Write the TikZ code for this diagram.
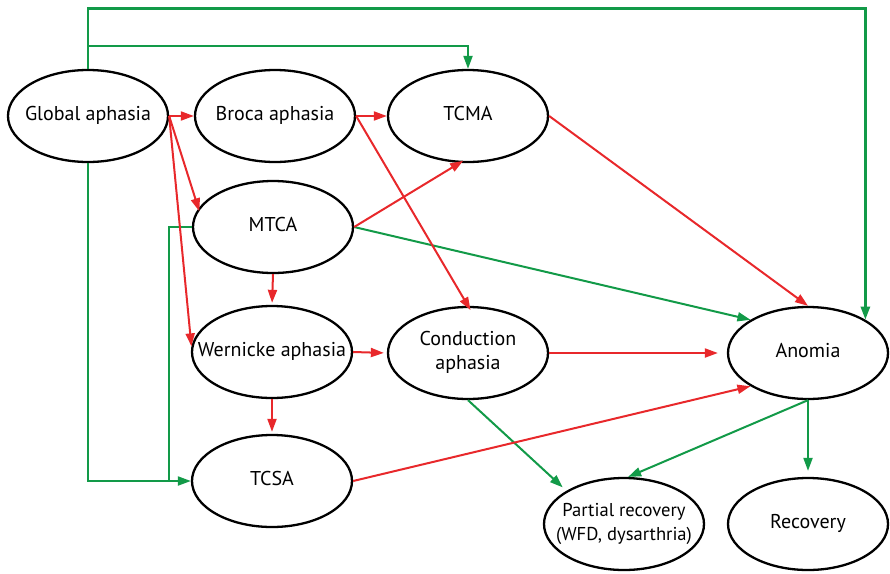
\documentclass[tikz,border=0pt]{standalone}
\usepackage{fontspec}
\setmainfont{PT Sans}
\usetikzlibrary{arrows.meta,shapes.geometric,calc}
\definecolor{rd}{HTML}{E8282B}
\definecolor{gn}{HTML}{129A48}
\newcommand{\zt}[1]{\makebox[0pt][c]{\begin{tabular}{@{}c@{}}#1\end{tabular}}}
\tikzset{
  oval/.style={ellipse,draw=black,line width=2.3pt,minimum width=160pt,minimum height=92pt,inner sep=0pt,font=\fontsize{20}{24}\selectfont},
  rarr/.style={draw=rd,line width=2pt,-{Triangle[length=13pt,width=9pt]}},
  garr/.style={draw=gn,line width=2pt,-{Triangle[length=13pt,width=9pt]}},
  gline/.style={draw=gn,line width=2pt},
}
\begin{document}
\begin{tikzpicture}[x=1pt,y=-1pt]
\useasboundingbox (0,0) rectangle (890,573);
\node[oval] (ga) at (88,116) {\zt{Global aphasia}};
\node[oval] (ba) at (275,116) {\zt{Broca aphasia}};
\node[oval] (tcma) at (468,116) {\zt{TCMA}};
\node[oval] (mtca) at (273,227) {\zt{MTCA}};
\node[oval] (wa) at (272,352) {\zt{Wernicke aphasia}};
\node[oval] (ca) at (468,353) {\zt{Conduction\\aphasia}};
\node[oval] (an) at (808,353) {\zt{Anomia}};
\node[oval] (tcsa) at (272,481) {\zt{TCSA}};
\node[oval,font=\fontsize{18.6}{24}\selectfont] (pr) at (624,524) {\zt{Partial recovery\\(WFD, dysarthria)}};
\node[oval] (rec) at (808,524) {\zt{Recovery}};
% green
\draw[garr,line width=2.8pt] (ga.north) -- ++(0,-60) -| (an.north east);
\draw[garr] (ga.north) -- ++(0,-23) -| (tcma.north);
\draw[garr] (ga.south) |- (tcsa.west);
\draw[gline] (mtca.west) -- ++(-23,0) |- ($(tcsa.west)+(-20,0)$);
\draw[garr] (mtca.east) -- (an.150);
\draw[garr,shorten >=5pt] (ca.south) -- (pr.150);
\draw[garr] (an.south) -- (pr.85);
\draw[garr,shorten >=6pt] (an.south) -- (rec.north);
% red
\draw[rarr] (ga.east) -- (ba.west);
\draw[rarr,shorten >=-3pt] (ga.east) -- (mtca.166);
\draw[rarr] (ga.east) -- (wa.176);
\draw[rarr] (ba.east) -- (tcma.west);
\draw[rarr,shorten >=-5pt] (ba.east) -- (ca.north);
\draw[rarr,shorten >=-4pt] (mtca.east) -- (tcma.260);
\draw[rarr,shorten >=2pt] (mtca.south) -- (wa.north);
\draw[rarr] (tcma.east) -- (an.north);
\draw[rarr,shorten >=3pt] (wa.east) -- (ca.west);
\draw[rarr,shorten >=2pt] (wa.south) -- (tcsa.north);
\draw[rarr,shorten >=9pt] (ca.east) -- (an.west);
\draw[rarr] (tcsa.east) -- (an.210);
\end{tikzpicture}
\end{document}
